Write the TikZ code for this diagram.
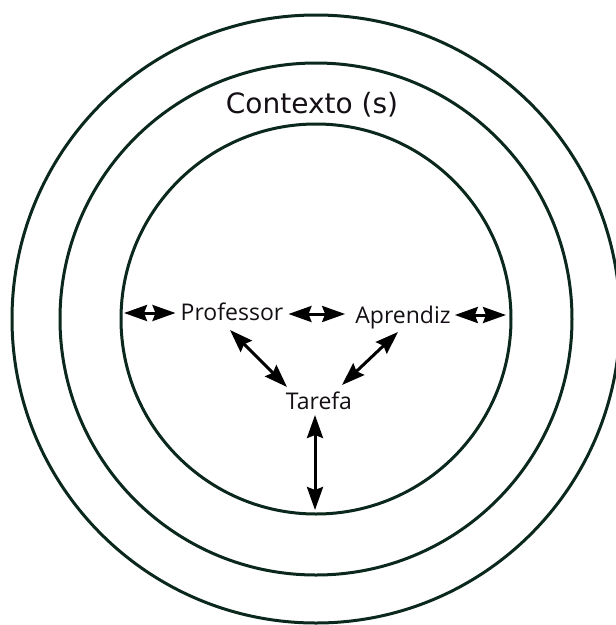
\documentclass[tikz,border=0pt]{standalone}
\usepackage{fontspec}
\newfontfamily\labfont{Open Sans}
\newfontfamily\ctxfont{DejaVu Sans}
\usetikzlibrary{arrows.meta,calc}
\definecolor{ringcol}{RGB}{10,40,28}
\definecolor{txtcol}{RGB}{20,15,20}
\tikzset{
  ring/.style={circle, draw=ringcol, line width=3pt, inner sep=0pt, outer sep=0pt},
  lab/.style={font=\labfont\fontsize{23}{26}\selectfont, text=txtcol, inner sep=0pt, anchor=base},
  ctx/.style={font=\ctxfont\fontsize{28}{32}\selectfont, text=txtcol, inner sep=0pt, anchor=base},
  tipk/.tip={Stealth[length=23pt,width=16pt,inset=3pt]},
  dbl/.style={line width=3pt, black, tipk-tipk}
}
\begin{document}
\begin{tikzpicture}[x=1pt,y=-1pt]
\useasboundingbox[fill=white] (0,0) rectangle (616,625);
\coordinate (c) at (316,319);
\node[ring, minimum size=390pt] (inner) at (c) {};
\node[ring, minimum size=512pt] (mid) at (c) {};
\node[ring, minimum size=608pt] (outer) at (c) {};

\node[ctx] (ctx) at (312,113) {Contexto (s)};
\node[lab] (prof) at (232,320) {Professor};
\node[lab] (apr) at (403,323) {Aprendiz};
\node[lab] (tar) at (319,409) {Tarefa};

\draw[dbl] ($(inner.west |- prof.base)+(3,-7)$) -- ($(prof.base west)+(-5,-7)$);
\draw[dbl] ($(prof.base east)+(5,-6)$) -- ($(apr.base west)+(-10,-9)$);
\draw[dbl] ($(apr.base east)+(4,-8)$) -- ($(inner.east |- apr.base)+(-5,-8)$);
\draw[dbl] ($(prof.base)+(-2,10)$) -- ($(tar.base)+(-32,-22)$);
\draw[dbl] ($(apr.base)+(-5,9)$) -- ($(tar.base)+(23,-24)$);
\draw[dbl] ($(tar.base)+(-4,6)$) -- ($(tar.base |- inner.south)+(-4,-4)$);
\end{tikzpicture}
\end{document}
